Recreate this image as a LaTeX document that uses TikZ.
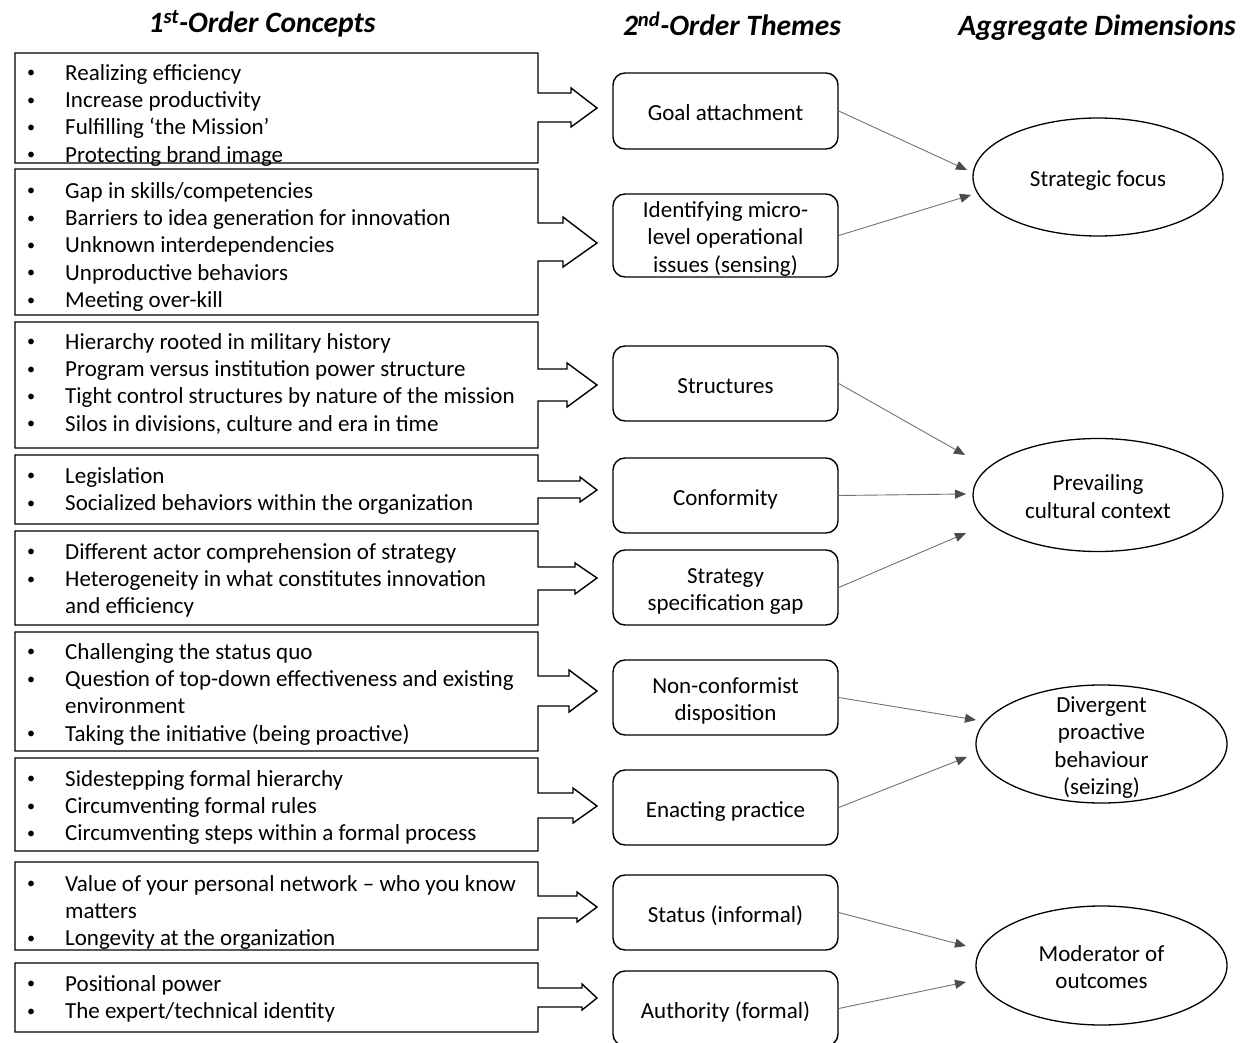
\documentclass[tikz,border=0pt]{standalone}
\usepackage{fontspec}
\usepackage{graphicx}
\setmainfont{Carlito}
\usetikzlibrary{arrows.meta,shapes.geometric}
\newcommand{\bl}{\makebox[38pt][l]{\raisebox{2.3pt}{\scalebox{0.7}{•}}}}
\newcommand{\ind}{\hspace*{38pt}}
\newcommand{\fs}{\rule{0pt}{20pt}}
\newcommand{\ms}{\rule[-4pt]{0pt}{27pt}}
\newcommand{\calloutbox}[8]{\draw[calline] (15,#1) -- (538,#1) -- (538,#3) -- (#7,#3) -- (#7,#5) -- (597,#8) -- (#7,#6) -- (#7,#4) -- (538,#4) -- (538,#2) -- (15,#2) -- cycle;}
\begin{document}
\begin{tikzpicture}[x=1pt,y=-1pt,
  calline/.style={draw=black, line width=1.4pt, line join=miter},
  bodyfont/.style={font=\fontsize{23}{27.3}\selectfont},
  lefttext/.style={bodyfont, anchor=north west, inner sep=0pt, align=left},
  midbox/.style={bodyfont, draw, line width=1.4pt, rounded corners=12pt, minimum width=225pt, align=center, inner sep=0pt},
  aggell/.style={draw, ellipse, line width=1.3pt, minimum width=250pt, minimum height=118pt, inner sep=0pt},
  aggtext/.style={bodyfont, align=center, inner sep=0pt},
  conn/.style={draw=black!55, line width=0.9pt, -{Triangle[length=11pt,width=9pt,color=black!70]}},
  headtext/.style={font=\fontsize{29.5}{34}\selectfont\bfseries\itshape, inner sep=0pt}
]
\useasboundingbox (0,0) rectangle (1243,1043);
\fill[white] (0,0) rectangle (1243,1043);

% headers
\node[headtext] (h1) at (262,24) {1\textsuperscript{st}-Order Concepts};
\node[headtext] (h2) at (732,24) {2\textsuperscript{nd}-Order Themes};
\node[headtext] (h3) at (1097,27.5) {Aggregate Dimensions};

% first-order callout boxes
\calloutbox{53}{163}{93}{122}{88}{127}{571}{108}
\calloutbox{169}{315}{223}{261}{217}{267}{563}{243}
\calloutbox{322}{448}{369}{401}{363}{407}{567}{385}
\calloutbox{455}{524}{481}{498}{477}{502}{580}{490}
\calloutbox{531}{625}{567}{590}{563}{594}{575}{578}
\calloutbox{632}{751}{676}{706}{670}{712}{569}{691}
\calloutbox{758}{851}{793}{818}{788}{823}{573}{806}
\calloutbox{862}{950}{896}{918}{892}{922}{577}{907}
\calloutbox{963}{1032}{988}{1007}{984}{1010}{582}{998}

\node[lefttext] (t1) at (27,60) {\fs\bl Realizing efficiency\\\bl Increase productivity\\\bl Fulfilling ‘the Mission’\\\bl Protecting brand image};
\node[lefttext] (t2) at (27,178) {\fs\bl Gap in skills/competencies\\\bl Barriers to idea generation for innovation\\\bl Unknown interdependencies\\\bl Unproductive behaviors\\\bl Meeting over-kill};
\node[lefttext] (t3) at (27,329) {\fs\bl Hierarchy rooted in military history\\\bl Program versus institution power structure\\\bl Tight control structures by nature of the mission\\\bl Silos in divisions, culture and era in time};
\node[lefttext] (t4) at (27,463) {\fs\bl Legislation\\\bl Socialized behaviors within the organization};
\node[lefttext] (t5) at (27,539) {\fs\bl Different actor comprehension of strategy\\\bl Heterogeneity in what constitutes innovation\\\ind and efficiency};
\node[lefttext] (t6) at (27,639) {\fs\bl Challenging the status quo\\\bl Question of top-down effectiveness and existing\\\ind environment\\\bl Taking the initiative (being proactive)};
\node[lefttext] (t7) at (27,766) {\fs\bl Sidestepping formal hierarchy\\\bl Circumventing formal rules\\\bl Circumventing steps within a formal process};
\node[lefttext] (t8) at (27,871) {\fs\bl Value of your personal network – who you know\\\ind matters\\\bl Longevity at the organization};
\node[lefttext] (t9) at (27,971) {\fs\bl Positional power\\\bl The expert/technical identity};

% second-order themes
\node[midbox, minimum height=76pt] (m1) at (725.5,111) {\ms Goal attachment};
\node[midbox, minimum height=83pt] (m2) at (725.5,235.5) {\ms Identifying micro-\\level operational\\issues (sensing)\ms};
\node[midbox, minimum height=75pt] (m3) at (725.5,383.5) {\ms Structures};
\node[midbox, minimum height=75pt] (m4) at (725.5,495.5) {\ms Conformity};
\node[midbox, minimum height=75pt] (m5) at (725.5,587.5) {\ms Strategy\\specification gap\ms};
\node[midbox, minimum height=75pt] (m6) at (725.5,697.5) {\ms Non-conformist\\disposition\ms};
\node[midbox, minimum height=75pt] (m7) at (725.5,807.5) {\ms Enacting practice};
\node[midbox, minimum height=75pt] (m8) at (725.5,912.5) {\ms Status (informal)};
\node[midbox, minimum height=75pt] (m9) at (725.5,1008.5) {\ms Authority (formal)};

% aggregate dimensions
\node[aggell] (e1) at (1098,177) {};
\node[aggell, minimum height=113pt] (e2) at (1098,495) {};
\node[aggell, minimum width=251pt] (e3) at (1101.5,744) {};
\node[aggell, minimum width=251pt, minimum height=119pt] (e4) at (1101.5,965.5) {};
\node[aggtext] (e1t) at (e1) {\ms Strategic focus};
\node[aggtext] (e2t) at (e2) {\ms Prevailing\\cultural context\ms};
\node[aggtext] (e3t) at (e3) {\ms Divergent\\proactive\\behaviour\\(seizing)\ms};
\node[aggtext] (e4t) at (e4) {\ms Moderator of\\outcomes\ms};

% connector tips
\coordinate (p1) at (967,170);
\coordinate (p2) at (971,195);
\coordinate (p3) at (965,455);
\coordinate (p4) at (966,494);
\coordinate (p5) at (966,533);
\coordinate (p6) at (976,720);
\coordinate (p7) at (967,757);
\coordinate (p8) at (966,946);
\coordinate (p9) at (966,982);

\draw[conn] (m1.east) -- (p1);
\draw[conn] (m2.east) -- (p2);
\draw[conn] (m3.east) -- (p3);
\draw[conn] (m4.east) -- (p4);
\draw[conn] (m5.east) -- (p5);
\draw[conn] (m6.east) -- (p6);
\draw[conn] (m7.east) -- (p7);
\draw[conn] (m8.east) -- (p8);
\draw[conn] (m9.east) -- (p9);
\end{tikzpicture}
\end{document}
